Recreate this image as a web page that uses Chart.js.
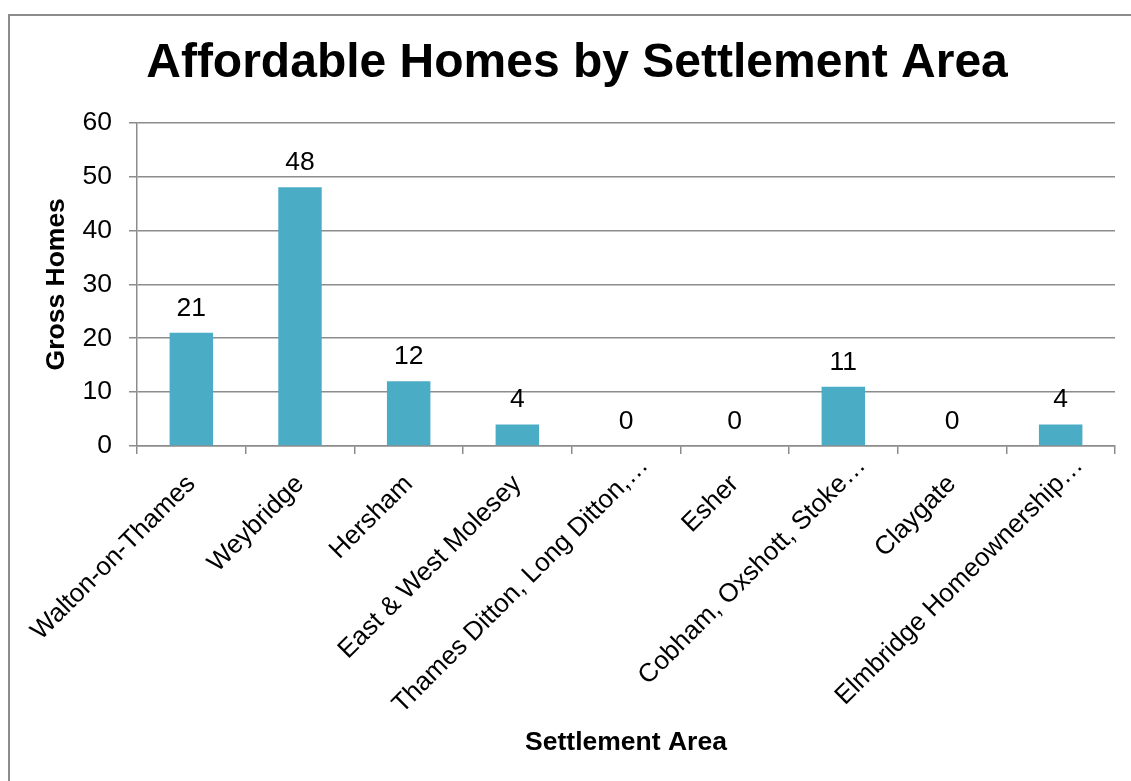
<!DOCTYPE html>
<html>
<head>
<meta charset="utf-8">
<title>Affordable Homes by Settlement Area</title>
<script src="https://cdn.jsdelivr.net/npm/chart.js@4/dist/chart.umd.min.js"></script>
<style>
    html, body { margin: 0; padding: 0; background: #fff; overflow: hidden; }
    #wrap { position: relative; width: 1131px; height: 781px; }
    #frame {
        position: absolute; left: 8px; top: 14px;
        width: 1200px; height: 900px;
        border: 2px solid #8c8c8c;
    }
    #chart { position: absolute; left: 0; top: 0; }
</style>
</head>
<body>
<div id="wrap">
    <div id="frame"></div>
    <canvas id="chart" width="1131" height="781"></canvas>
</div>
<script>
const areas = [
    'Walton-on-Thames',
    'Weybridge',
    'Hersham',
    'East & West Molesey',
    'Thames Ditton, Long Ditton,\u2026',
    'Esher',
    'Cobham, Oxshott, Stoke\u2026',
    'Claygate',
    'Elmbridge Homeownership\u2026'
];
const grossHomes = [21, 48, 12, 4, 0, 0, 11, 0, 4];
const yTicks = [0, 10, 20, 30, 40, 50, 60];

const FONT = '"Liberation Sans", Arial, sans-serif';
const GRID = '#8c8c8c';
const TEXT_SIZE = 26.5;
const ELLIPSIS = '\u2026';

// value labels above each bar
const barLabels = {
    id: 'barLabels',
    afterDatasetsDraw(chart) {
        const ctx = chart.ctx;
        const meta = chart.getDatasetMeta(0);
        ctx.save();
        ctx.font = TEXT_SIZE + 'px ' + FONT;
        ctx.fillStyle = '#000';
        ctx.textAlign = 'center';
        ctx.textBaseline = 'alphabetic';
        meta.data.forEach((bar, i) => {
            ctx.fillText(String(grossHomes[i]), bar.x, bar.y - 17);
        });
        ctx.restore();
    }
};

// truncated category names: the ellipsis hangs past the tick anchor
const hangingEllipsis = {
    id: 'hangingEllipsis',
    afterDraw(chart) {
        const scale = chart.scales.x;
        const items = scale.getLabelItems();
        const ctx = chart.ctx;
        ctx.save();
        items.forEach((item, i) => {
            if (!areas[i].endsWith(ELLIPSIS)) return;
            const o = item.options;
            ctx.save();
            ctx.translate(o.translation[0], o.translation[1]);
            ctx.rotate(o.rotation);
            ctx.font = item.font.string;
            ctx.fillStyle = '#000';
            ctx.textAlign = 'left';
            ctx.textBaseline = o.textBaseline;
            ctx.fillText(ELLIPSIS, 0, item.textOffset);
            ctx.restore();
        });
        ctx.restore();
    }
};

new Chart(document.getElementById('chart'), {
    type: 'bar',
    data: {
        labels: areas,
        datasets: [{
            data: grossHomes,
            backgroundColor: '#4bacc6',
            borderWidth: 0,
            categoryPercentage: 1,
            barPercentage: 0.4
        }]
    },
    options: {
        responsive: false,
        animation: false,
        layout: { padding: { left: 39, right: 16, top: 0, bottom: 22 } },
        plugins: {
            legend: { display: false },
            tooltip: { enabled: false },
            title: {
                display: true,
                text: 'Affordable Homes by Settlement Area',
                color: '#000',
                font: { family: FONT, size: 48, weight: 'bold' },
                padding: { top: 35, bottom: 30 }
            }
        },
        scales: {
            x: {
                grid: {
                    offset: true,
                    drawOnChartArea: false,
                    drawTicks: true,
                    tickLength: 8,
                    color: GRID,
                    lineWidth: 1.5
                },
                border: { display: true, color: GRID, width: 1.5 },
                ticks: {
                    color: '#000',
                    font: { family: FONT, size: 26 },
                    minRotation: 45,
                    maxRotation: 45,
                    autoSkip: false,
                    padding: 15,
                    callback(value, index) {
                        const name = areas[index];
                        return name.endsWith(ELLIPSIS) ? name.slice(0, -1) : name;
                    }
                },
                title: {
                    display: true,
                    text: 'Settlement Area',
                    color: '#000',
                    font: { family: FONT, size: TEXT_SIZE, weight: 'bold' },
                    padding: { top: 0, bottom: 0 }
                },
                afterFit(scale) { scale.height = 313; }
            },
            y: {
                min: 0,
                max: 60,
                afterBuildTicks(scale) {
                    scale.ticks = yTicks.map(v => ({ value: v }));
                },
                grid: {
                    color: GRID,
                    lineWidth: 1.5,
                    tickLength: 8
                },
                border: { display: true, color: GRID, width: 1.5 },
                ticks: {
                    color: '#000',
                    font: { family: FONT, size: TEXT_SIZE },
                    padding: 17
                },
                title: {
                    display: true,
                    text: 'Gross Homes',
                    color: '#000',
                    font: { family: FONT, size: TEXT_SIZE, weight: 'bold' },
                    padding: { top: 2, bottom: 0 }
                },
                afterFit(scale) { scale.width = 98; }
            }
        }
    },
    plugins: [barLabels, hangingEllipsis]
});
</script>
</body>
</html>
